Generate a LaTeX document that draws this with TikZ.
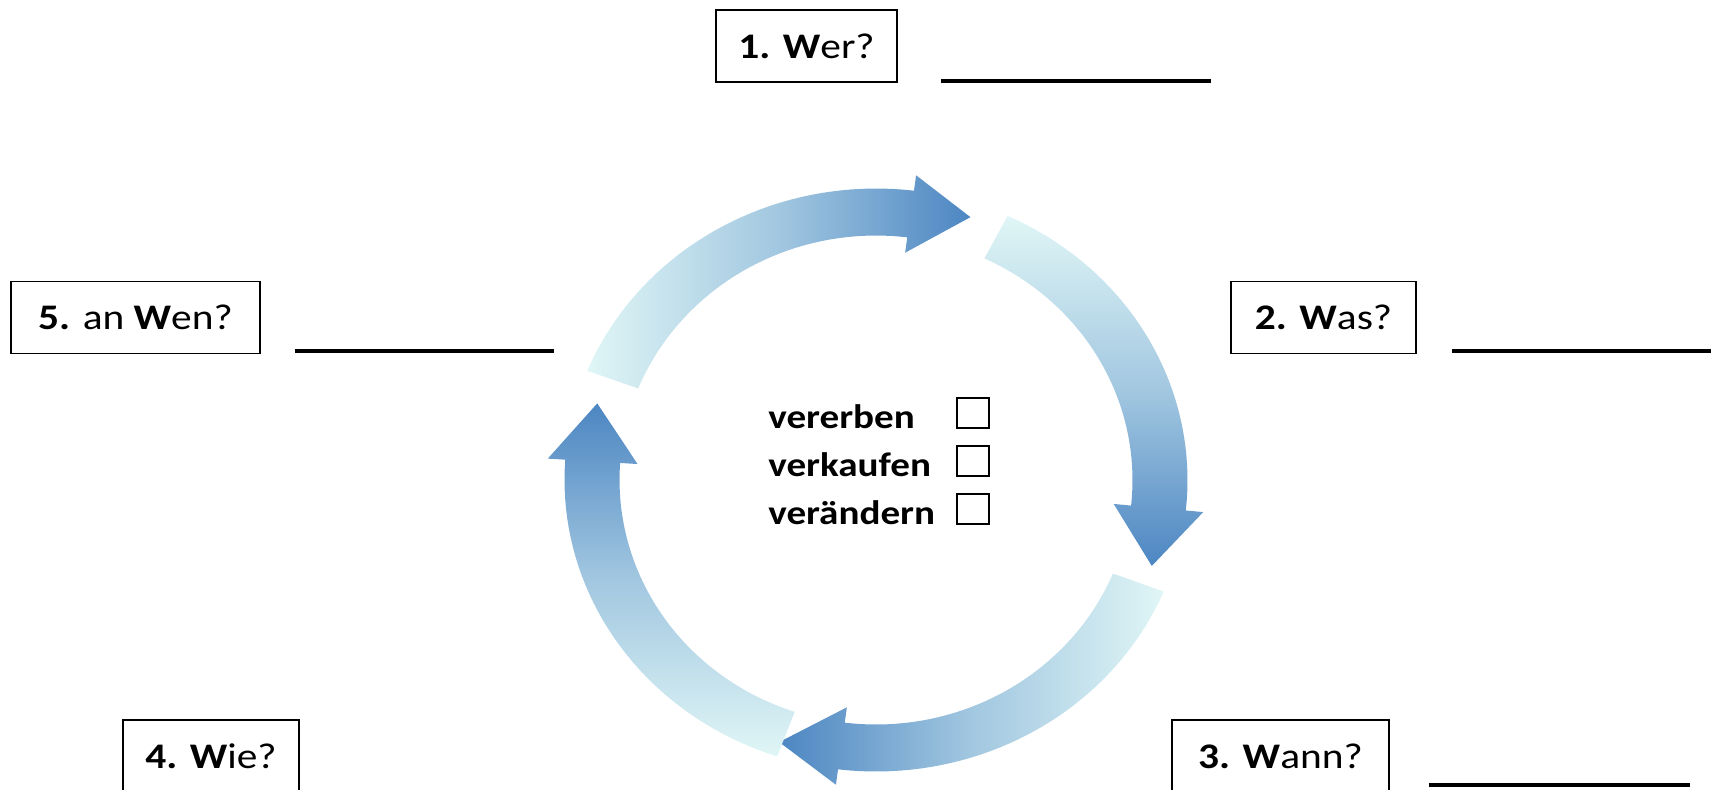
\documentclass[tikz,border=0pt]{standalone}
\usepackage{fontspec}
\setmainfont{Carlito}[FakeStretch=1.15]
\usepackage{xcolor}

\definecolor{ringlight}{RGB}{224,246,246}
\definecolor{ringdark}{RGB}{76,134,194}
\colorlet{ringmid}{ringdark!42!ringlight}

\tikzset{
  wbox/.style={draw, line width=0.9pt, minimum height=36pt, inner sep=0pt,
    font=\fontsize{18}{21}\selectfont},
  blank/.style={line width=1.6pt},
  verb/.style={anchor=base west, inner sep=0pt, font=\fontsize{17}{20}\selectfont\bfseries},
  tickbox/.style={draw, line width=1.2pt, minimum width=16pt, minimum height=15pt, inner sep=0pt},
  lr/.style={left color=ringlight, right color=ringdark, middle color=ringmid},
  rl/.style={left color=ringdark, right color=ringlight, middle color=ringmid},
  tb/.style={top color=ringlight, bottom color=ringdark, middle color=ringmid},
  bt/.style={top color=ringdark, bottom color=ringlight, middle color=ringmid}
}

\begin{document}
\begin{tikzpicture}[x=0.5pt, y=-0.5pt]
\useasboundingbox (0,0) rectangle (1711,789);

% ring of four arrows: tail / base of head / tip / shading
\foreach \ta/\tb/\tc/\sh in {158/83/71/lr, 65/-6/-18/tb, -22.5/-97/-109.5/rl, -108.5/-184/-196/bt}
  \path[\sh] plot[domain=\ta:\tb, samples=40] ({876+311.5*cos(\x)}, {480-291.5*sin(\x)})
    -- ({876+329*cos(\tb)}, {480-307*sin(\tb)})
    -- ({876+290*cos(\tc)}, {480-278*sin(\tc)})
    -- ({876+239*cos(\tb)}, {480-229*sin(\tb)})
    -- plot[domain=\tb:\ta, samples=40] ({876+256.5*cos(\x)}, {480-244.5*sin(\x)})
    -- cycle;

% question boxes
\node[wbox, minimum width=90.5pt]  (wer)  at (806.5,46)   {\textbf{1. W}er?};
\node[wbox, minimum width=92.5pt]  (was)  at (1323.5,317.5) {\textbf{2. W}as?};
\node[wbox, minimum width=108.5pt] (wann) at (1280.5,756) {\textbf{3. W}ann?};
\node[wbox, minimum width=88pt]    (wie)  at (211,756)    {\textbf{4. W}ie?};
\node[wbox, minimum width=124.5pt] (wen)  at (135.5,317.5) {\textbf{5.} an \textbf{W}en?};

% answer lines
\draw[blank] (941,81) -- (1211,81);
\draw[blank] (1452,351) -- (1711,351);
\draw[blank] (1429,785) -- (1690,785);
\draw[blank] (295,351) -- (554,351);

% choices
\foreach \w [count=\i] in {vererben, verkaufen, verändern} {
  \node[verb] (word\i) at (768, {380+48*\i}) {\w};
  \node[tickbox] (box\i) at (973, {365+48*\i}) {};
}
\end{tikzpicture}
\end{document}
